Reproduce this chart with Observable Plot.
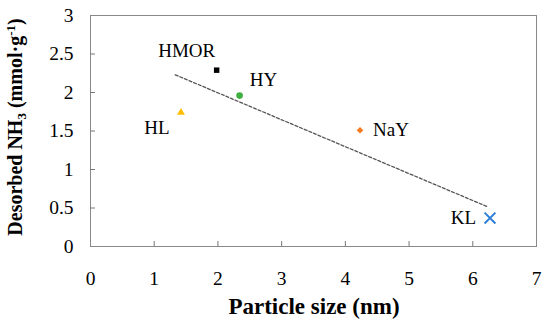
<!DOCTYPE html>
<html>
<head>
<meta charset="utf-8">
<script src="https://cdn.jsdelivr.net/npm/d3@7"></script>
<script src="https://cdn.jsdelivr.net/npm/@observablehq/plot@0.6"></script>
<style>
  body { margin: 0; background: #fff; }
  #chart { width: 550px; height: 332px; }
  #chart svg text, #chart svg tspan { font-family: 'Liberation Serif', 'Times New Roman', serif !important; }
</style>
</head>
<body>
<div id="chart"></div>
<script>
// Data
const names = ["HMOR", "HY", "HL", "NaY", "KL"];
const particleSize = [1.98, 2.34, 1.42, 4.23, 6.27];
const desorbedNH3 = [2.29, 1.96, 1.74, 1.51, 0.37];
const colors = ["#000000", "#3fb03f", "#ffbf00", "#f47b20", "#2f7fd8"];
const symbols = ["square", "circle", "triangle", "diamond2", "times"];
const trendX = [1.33, 6.22];
const trendY = [2.23, 0.52];
const xTicks = [0, 1, 2, 3, 4, 5, 6, 7];
const yTicks = [0, 0.5, 1, 1.5, 2, 2.5, 3];

const pts = names.map((n, i) => ({name: n, x: particleSize[i], y: desorbedNH3[i], color: colors[i], symbol: symbols[i]}));
const trend = trendX.map((x, i) => ({x, y: trendY[i]}));
const font = "'Liberation Serif', 'Times New Roman', serif";

const ptByName = n => pts.filter(d => d.name === n);
function lbl(n, opts) {
  return Plot.text(ptByName(n), {x: "x", y: "y", text: "name", fontSize: 19, fontFamily: font, fill: "#000", ...opts});
}

const plot = Plot.plot({
  width: 550,
  height: 332,
  marginLeft: 90,
  marginRight: 14,
  marginTop: 15,
  marginBottom: 86,
  style: {fontFamily: font, background: "#fff", color: "#000"},
  x: {domain: [0, 7], label: null},
  y: {domain: [0, 3], label: null},
  marks: [
    Plot.frame({stroke: "#888", strokeWidth: 1}),
    Plot.axisX({ticks: xTicks.slice(1, -1), tickSize: -5, tickFormat: () => "", stroke: "#777"}),
    Plot.axisY({ticks: yTicks.slice(1, -1), tickSize: -5, tickFormat: () => "", stroke: "#777"}),
    Plot.axisX({ticks: xTicks, tickSize: 0, tickPadding: 25, fontSize: 19.5, fontFamily: font, fill: "#000", tickFormat: d3.format("~g")}),
    Plot.axisY({ticks: yTicks, tickSize: 0, tickPadding: 17, fontSize: 19.5, fontFamily: font, fill: "#000", tickFormat: d3.format("~g")}),
    Plot.line(trend, {x: "x", y: "y", stroke: "#555", strokeWidth: 1.3, strokeDasharray: "3,2"}),
    Plot.dot(pts.filter(d => d.symbol !== "times"), {x: "x", y: "y", symbol: d => d.symbol, fill: d => d.color, stroke: "none",
      r: d => ({square: 3.95, circle: 4.6, triangle: 3.6, diamond2: 3.8})[d.symbol]}),
    Plot.dot(pts.filter(d => d.symbol === "times"), {x: "x", y: "y", symbol: "times", stroke: d => d.color, strokeWidth: 2, r: 5}),
    lbl("HMOR", {dx: -30, dy: -19}),
    lbl("HY", {dx: 24, dy: -16}),
    lbl("HL", {dx: -24, dy: 15}),
    lbl("NaY", {dx: 13, textAnchor: "start"}),
    lbl("KL", {dx: -14, textAnchor: "end"})
  ]
});

const svg = d3.select(plot);
// x-axis title
svg.append("text")
  .attr("x", 314).attr("y", 314)
  .attr("text-anchor", "middle")
  .style("font-family", font).style("font-weight", "bold").style("font-size", "23px")
  .attr("fill", "#000")
  .text("Particle size (nm)");
// y-axis title with subscript / superscript
const yt = svg.append("text")
  .attr("transform", "translate(22,127) rotate(-90)")
  .attr("text-anchor", "middle")
  .style("font-family", font).style("font-weight", "bold").style("font-size", "20px")
  .attr("fill", "#000");
yt.append("tspan").text("Desorbed NH");
yt.append("tspan").style("font-size", "13px").attr("dy", 4).text("3");
yt.append("tspan").attr("dy", -4).text(" (mmol·g");
yt.append("tspan").style("font-size", "13px").attr("dy", -7).text("-1");
yt.append("tspan").attr("dy", 7).text(")");

document.getElementById("chart").appendChild(plot);
</script>
</body>
</html>
